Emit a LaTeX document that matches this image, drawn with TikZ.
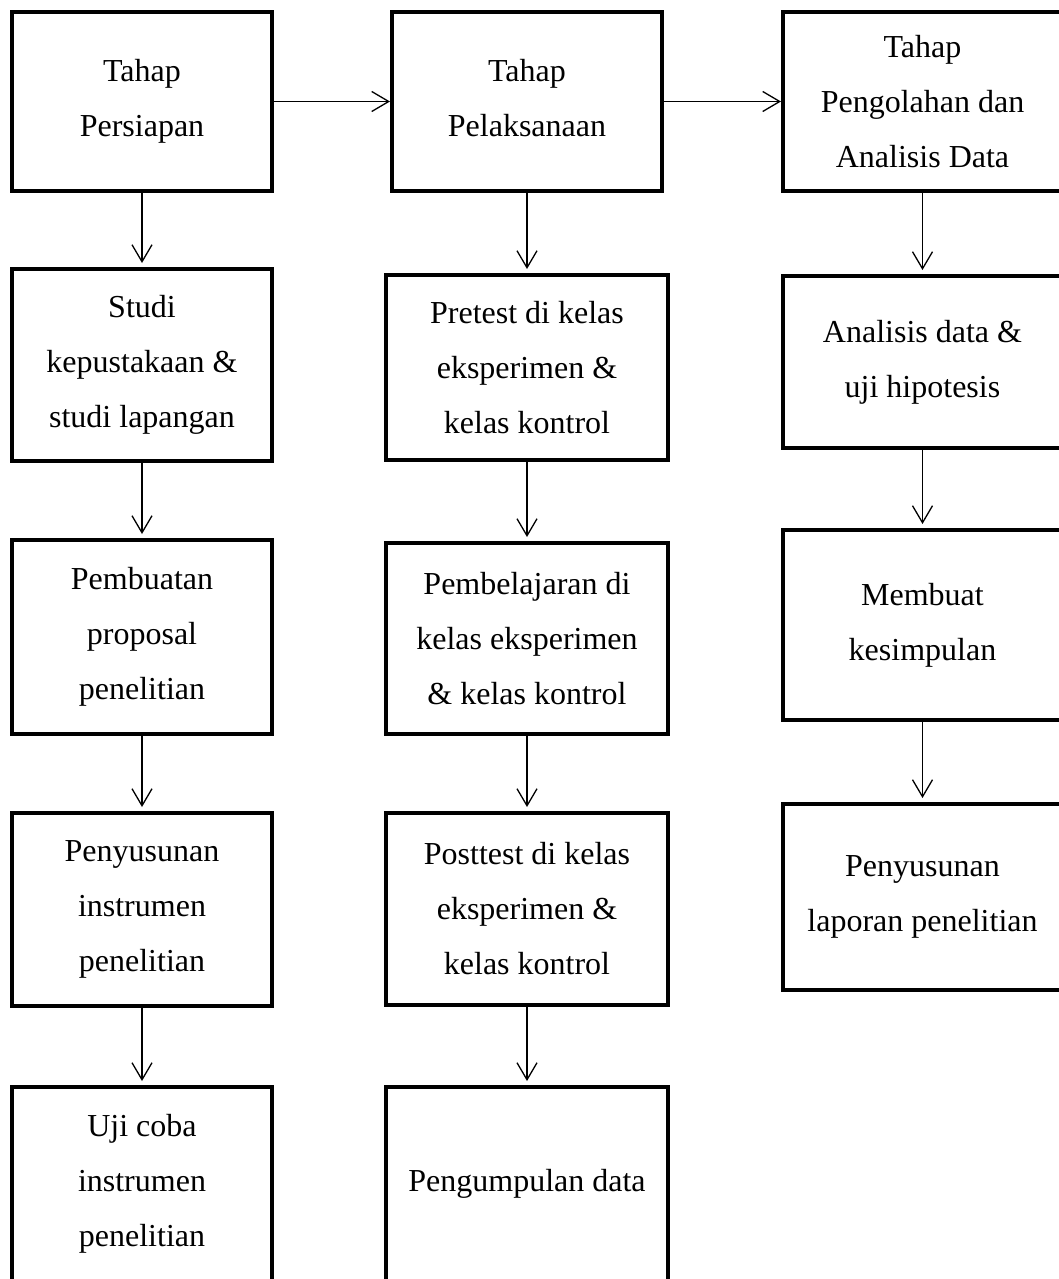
\documentclass[tikz,border=0pt]{standalone}
\usepackage{fontspec}
\setmainfont{Liberation Serif}
\usetikzlibrary{arrows.meta}
\begin{document}
\begin{tikzpicture}[x=1pt,y=-1pt,
  box/.style={draw, line width=4pt, rectangle, inner sep=0pt, align=center,
    font=\fontsize{32}{55}\selectfont},
  arr/.style={line width=1.3pt, -{Straight Barb[length=17pt,width=20pt]}},
  varr/.style={arr, shorten >=4pt}]
\clip (0,0) rectangle (1059,1279);
% column 1
\node[box, minimum width=260, minimum height=179] (P1) at (142,101.5) {Tahap\\Persiapan};
\node[box, minimum width=260, minimum height=192] (S1) at (142,365) {Studi\\kepustakaan \&\\studi lapangan};
\node[box, minimum width=260, minimum height=194] (B1) at (142,637) {Pembuatan\\proposal\\penelitian};
\node[box, minimum width=260, minimum height=193] (N1) at (142,909.5) {Penyusunan\\instrumen\\penelitian};
\node[box, minimum width=260, minimum height=194] (U1) at (142,1184) {Uji coba\\instrumen\\penelitian};
% column 2
\node[box, minimum width=270, minimum height=179] (P2) at (527,101.5) {Tahap\\Pelaksanaan\vphantom{p}};
\node[box, minimum width=282, minimum height=185] (R2) at (527,367.5) {Pretest di kelas\\eksperimen \&\\kelas kontrol};
\node[box, minimum width=282, minimum height=191] (L2) at (527,638.5) {Pembelajaran di\\kelas eksperimen\\\& kelas kontrol};
\node[box, minimum width=282, minimum height=192] (T2) at (527,909) {Posttest di kelas\\eksperimen \&\\kelas kontrol};
\node[box, minimum width=282, minimum height=194] (G2) at (527,1184) {Pengumpulan data};
% column 3
\node[box, minimum width=279, minimum height=179] (P3) at (922.5,101.5) {Tahap\\Pengolahan dan\\Analisis Data};
\node[box, minimum width=279, minimum height=172] (A3) at (922.5,362) {Analisis data \&\\uji hipotesis};
\node[box, minimum width=279, minimum height=190] (M3) at (922.5,625) {Membuat\\kesimpulan};
\node[box, minimum width=279, minimum height=186] (Y3) at (922.5,897) {Penyusunan\\laporan penelitian};
% connectors
\draw[arr] (P1.east) -- (P2.west);
\draw[arr] (P2.east) -- (P3.west);
\draw[varr] (P1.south) -- (S1.north);
\draw[varr] (S1.south) -- (B1.north);
\draw[varr] (B1.south) -- (N1.north);
\draw[varr] (N1.south) -- (U1.north);
\draw[varr] (P2.south) -- (R2.north);
\draw[varr] (R2.south) -- (L2.north);
\draw[varr] (L2.south) -- (T2.north);
\draw[varr] (T2.south) -- (G2.north);
\draw[varr] (P3.south) -- (A3.north);
\draw[varr] (A3.south) -- (M3.north);
\draw[varr] (M3.south) -- (Y3.north);
\end{tikzpicture}
\end{document}
